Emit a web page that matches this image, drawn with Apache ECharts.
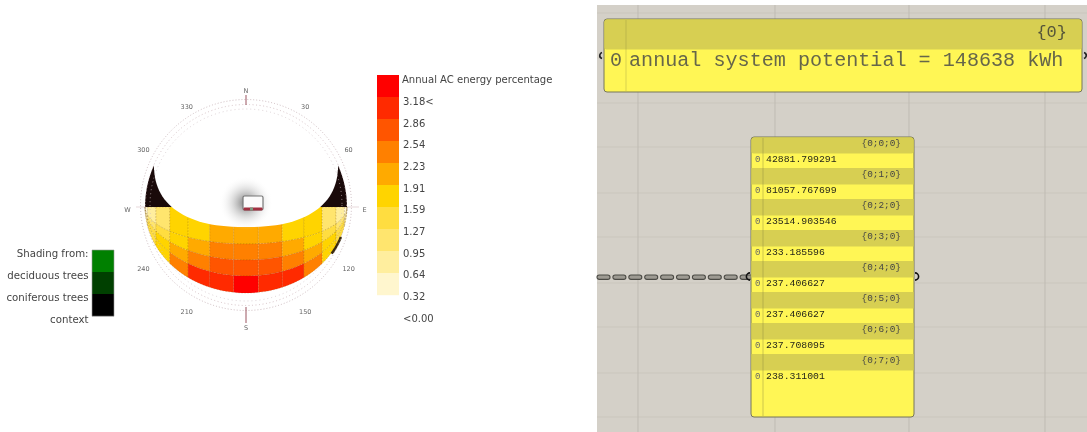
<!DOCTYPE html>
<html>
<head>
<meta charset="utf-8">
<style>
html,body{margin:0;padding:0;background:#fff;overflow:hidden}
#c{width:1087px;height:432px;filter:blur(0.45px)}
</style>
<script src="https://cdn.jsdelivr.net/npm/echarts@6/dist/echarts.min.js"></script>
</head>
<body>
<div id="c"></div>
<script>
// ---------- data ----------
const legendTitle = 'Annual AC energy percentage';
const legendLabels = ['3.18<','2.86','2.54','2.23','1.91','1.59','1.27','0.95','0.64','0.32','<0.00'];
const legendThresholds = [3.18,2.86,2.54,2.23,1.91,1.59,1.27,0.95,0.64,0.32];
const legendColors = ['#FF0000','#FF2A00','#FF5500','#FF8000','#FFAA00','#FFD400','#FFDD40','#FFE56E','#FFEE9E','#FFF6CE'];
const shadeLabels = ['Shading from:','deciduous trees','coniferous trees','context'];
const shadeColors = ['#008000','#004000','#000000'];
const compassLabels = ['N','30','60','E','120','150','S','210','240','W','300','330'];
const azimuthEdges = [-91,-77,-63,-49,-35,-21,-7,7,21,35,49,63,77,91];
const ringDepths = [0,37,53,69,86];
const skyRow0 = [0.4,0.7,1.0,1.6,1.7,2.0,2.0,2.0,1.7,1.6,1.0,0.7,0.4];
const skyRow1 = [0.7,1.0,1.3,1.7,2.1,2.3,2.4,2.3,2.1,1.7,1.3,1.0,0.7];
const skyRow2 = [0.9,1.3,1.6,2.0,2.3,2.6,2.7,2.6,2.3,2.0,1.6,1.3,0.9];
const skyRow3 = [1.0,1.4,1.9,2.3,2.9,3.1,3.3,3.1,2.9,2.3,1.9,1.4,1.0];
const bigPanelPath = '{0}';
const bigPanelIndex = '0';
const bigPanelText = 'annual system potential = 148638 kWh';
const listPaths = ['{0;0;0}','{0;1;0}','{0;2;0}','{0;3;0}','{0;4;0}','{0;5;0}','{0;6;0}','{0;7;0}'];
const listValues = ['42881.799291','81057.767699','23514.903546','233.185596','237.406627','237.406627','237.708095','238.311001'];
const wireLinks = [0,1,2,3,4,5,6,7,8,9];
const canvasVLines = [638,775,909,1045];
const canvasHLines = [13,58,103,147,193,237,283,327,373,417];

// ---------- look ----------
const SANS = '"DejaVu Sans"', MONO = '"Liberation Mono"';
const CX = 246, CY = 207, RX = 101;
const colorOf = v => { for (let i=0;i<legendThresholds.length;i++) if (v>=legendThresholds[i]) return legendColors[i]; return '#fff'; };
const project = (az,depth) => { const a=az*Math.PI/180; return [CX+RX*Math.sin(Math.max(-90,Math.min(90,az))*Math.PI/180), CY+depth*Math.max(0,Math.cos(a))]; };

const skyData = [];
[skyRow0,skyRow1,skyRow2,skyRow3].forEach((row,r)=>row.forEach((v,c)=>skyData.push([c,r,v])));

const chart = echarts.init(document.getElementById('c'),null,{width:1087,height:432});

function drawOnce(z, build){
  return {type:'custom',coordinateSystem:'cartesian2d',silent:true,z:z,clip:false,animation:false,
    data:[[0,0]],renderItem:(p,api)=>({type:'group',children:build(q=>api.coord(q))})};
}
const text=(c,x,y,t,o)=>{const q=c([x,y]);return {type:'text',style:Object.assign({x:q[0],y:q[1],text:t,textVerticalAlign:'middle',verticalAlign:'middle',fill:'#444',font:'10px '+SANS},o)};};
const rect=(c,x,y,w,h,style,r)=>{const a=c([x,y]),b=c([x+w,y+h]);return {type:'rect',shape:{x:a[0],y:a[1],width:b[0]-a[0],height:b[1]-a[1],r:r||0},style};};
const line=(c,x1,y1,x2,y2,stroke,w)=>{const a=c([x1,y1]),b=c([x2,y2]);return {type:'line',shape:{x1:a[0],y1:a[1],x2:b[0],y2:b[1]},style:{stroke,lineWidth:w,fill:null}};};

const series = [];

// sky dome cells
series.push({type:'custom',coordinateSystem:'cartesian2d',silent:true,z:2,clip:false,animation:false,
  data:skyData,encode:{x:0,y:1},
  renderItem:(p,api)=>{
    const c=api.value(0),r=api.value(1),v=api.value(2);
    const a0=azimuthEdges[c],a1=azimuthEdges[c+1],d0=ringDepths[r],d1=ringDepths[r+1];
    const pts=[];
    for(let i=0;i<=6;i++)pts.push(api.coord(project(a0+(a1-a0)*i/6,d0)));
    for(let i=6;i>=0;i--)pts.push(api.coord(project(a0+(a1-a0)*i/6,d1)));
    return {type:'polygon',shape:{points:pts},style:{fill:colorOf(v),stroke:'rgba(110,70,0,0.45)',lineWidth:0.5,lineDash:[1.5,1.5]}};
  }});

// black context wedges, white open sky, building
series.push(drawOnce(3,c=>{
  const out=[];
  const wedge=[];
  for(let d=-90;d<=90;d+=3){const a=d*Math.PI/180;wedge.push(c([CX+RX*Math.sin(a),CY-RX*Math.cos(a)]));}
  out.push({type:'polygon',shape:{points:wedge},style:{fill:'#1a0a0a'}});
  const W=92,H=63.5,n=2.4,yc=163.5,pts=[];
  for(let i=0;i<=120;i++){const t=i/120*2*Math.PI,cs=Math.cos(t),sn=Math.sin(t);
    pts.push(c([CX+W*Math.sign(cs)*Math.pow(Math.abs(cs),2/n),yc+H*Math.sign(sn)*Math.pow(Math.abs(sn),2/n)]));}
  out.push({type:'polygon',shape:{points:pts},style:{fill:'#ffffff'}});
  out.push({type:'polygon',shape:{points:[c([CX-92,170]),c([CX-92,150]),c([CX,96]),c([CX+92,150]),c([CX+92,170])]},style:{fill:'#ffffff'}});
  const sl=[];for(let a=58;a<=70;a+=2)sl.push(c(project(a,88)));
  out.push({type:'polyline',shape:{points:sl},style:{stroke:'#3a2a10',lineWidth:2.5,fill:null}});
  const g=c([246,203]);
  out.push({type:'circle',shape:{cx:g[0],cy:g[1],r:27},style:{fill:new echarts.graphic.RadialGradient(0.5,0.5,0.5,[{offset:0,color:'rgba(90,90,90,0.85)'},{offset:0.5,color:'rgba(170,170,170,0.4)'},{offset:1,color:'rgba(255,255,255,0)'}])}});
  out.push(rect(c,243,196,20,14,{fill:'#fbfbfb',stroke:'#777',lineWidth:1.2},1.5));
  out.push(rect(c,243.5,207.5,19,3,{fill:'#a03040'},1));
  out.push(rect(c,250,207.5,3,3,{fill:'#7a9a80'}));
  return out;
}));

// compass
series.push(drawOnce(4,c=>{
  const out=[];const o=c([CX,205]);
  [[105.5,'#b9a0a6',[1,2]],[100.5,'#c6aab0',[1,2.5]],[96,'#cfc0c4',[1,3]]].forEach(([r,col,dash])=>{
    const a=c([CX+r,205]);
    out.push({type:'circle',shape:{cx:o[0],cy:o[1],r:a[0]-o[0]},style:{fill:null,stroke:col,lineWidth:0.7,lineDash:dash}});
  });
  out.push(line(c,CX,95,CX,105,'#9b5560',1));
  out.push(line(c,CX,307,CX,323,'#9b5560',1));
  out.push(line(c,136,207,146,207,'#d8c0c4',0.6));
  out.push(line(c,347,207,359,207,'#d8c0c4',0.6));
  compassLabels.forEach((t,i)=>{
    const a=i*30*Math.PI/180, R=118.5;
    out.push(text(c,246+R*Math.sin(a),210-R*Math.cos(a),t,{fill:'#666',font:'6.5px '+SANS,textAlign:'center',align:'center'}));
  });
  return out;
}));

// percentage legend
series.push({type:'custom',coordinateSystem:'cartesian2d',silent:true,z:5,clip:false,animation:false,
  data:legendColors.map((_,i)=>[i]),encode:{x:0},
  renderItem:(p,api)=>{const i=api.value(0);const c=q=>api.coord(q);
    return rect(c,377,75+i*22,22,22.2,{fill:legendColors[i]});}});
series.push(drawOnce(5,c=>{
  const out=[text(c,402,80,legendTitle,{font:'10.05px '+SANS})];
  legendLabels.forEach((t,i)=>out.push(text(c,403,102.3+i*21.7,t,{font:'10px '+SANS})));
  return out;
}));

// shading legend
series.push(drawOnce(5,c=>{
  const out=[];
  shadeColors.forEach((col,i)=>out.push(rect(c,92,250+i*22,22,22.2,{fill:col})));
  out.push(rect(c,92,250,22,66.2,{fill:null,stroke:'#999',lineWidth:0.6}));
  shadeLabels.forEach((t,i)=>out.push(text(c,88.5,254.5+i*22,t,{textAlign:'right',align:'right',font:'10.2px '+SANS})));
  return out;
}));

// grasshopper canvas
series.push(drawOnce(6,c=>{
  const out=[rect(c,597,5,490,427,{fill:'#D4D0C8'})];
  canvasHLines.forEach(y=>out.push(line(c,597,y,1087,y,'#CAC6BD',1)));
  canvasVLines.forEach(x=>out.push(line(c,x,5,x,432,'#BFBBB3',1)));
  return out;
}));

// panels
const PANEL_FILL='#FFF655', PANEL_HEAD='#D7CF52';
series.push(drawOnce(8,c=>{
  const out=[];
  wireLinks.forEach(i=>out.push(rect(c,597+i*15.9,275,13,4.4,{fill:'#9d9a92',stroke:'#4b4a45',lineWidth:1.1},2.2)));
  out.push(rect(c,604,19,478,73,{fill:PANEL_FILL,stroke:'#77765a',lineWidth:1},3));
  out.push(rect(c,604.5,19.5,477,30,{fill:PANEL_HEAD},2));
  out.push(line(c,626,20,626,91,'rgba(130,130,60,0.3)',1));
  out.push(text(c,1067,32.5,bigPanelPath,{textAlign:'right',align:'right',font:'17px '+MONO,fill:'#55553a'}));
  out.push(text(c,610,60.5,bigPanelIndex,{font:'20px '+MONO,fill:'#66664a'}));
  out.push(text(c,629,60.5,bigPanelText,{font:'20.12px '+MONO,fill:'#66664a'}));
  const o=c([0,0]);
  out.push({type:'arc',shape:{cx:o[0]+603,cy:o[1]+55.5,r:3.2,startAngle:Math.PI*0.6,endAngle:Math.PI*1.4},style:{stroke:'#222',lineWidth:1.6,fill:null}});
  out.push({type:'arc',shape:{cx:o[0]+1083,cy:o[1]+55.5,r:3.2,startAngle:-Math.PI*0.4,endAngle:Math.PI*0.4},style:{stroke:'#222',lineWidth:1.6,fill:null}});
  out.push(rect(c,751,137,163,280,{fill:PANEL_FILL,stroke:'#77765a',lineWidth:1},3));
  listPaths.forEach((t,i)=>{
    const top=137+i*31;
    out.push(rect(c,751.5,top+(i?0:0.5),162,i?16.5:16,{fill:PANEL_HEAD},i?0:2));
    out.push(text(c,901,top+7,t,{textAlign:'right',align:'right',font:'9.4px '+MONO,fill:'#444'}));
    out.push(text(c,755,top+22.5,'0',{font:'9px '+MONO,fill:'#666'}));
    out.push(text(c,766,top+22.5,listValues[i],{font:'9.8px '+MONO,fill:'#26261a'}));
  });
  out.push(line(c,763,138,763,416,'rgba(130,130,60,0.4)',1));
  out.push({type:'arc',shape:{cx:o[0]+750,cy:o[1]+276.5,r:3.6,startAngle:Math.PI*0.5,endAngle:Math.PI*1.5},style:{stroke:'#111',lineWidth:1.6,fill:null}});
  out.push({type:'arc',shape:{cx:o[0]+915,cy:o[1]+276.5,r:3.6,startAngle:-Math.PI*0.5,endAngle:Math.PI*0.5},style:{stroke:'#111',lineWidth:1.6,fill:null}});
  return out;
}));

chart.setOption({
  animation:false,
  backgroundColor:'#ffffff',
  grid:{left:0,top:0,width:1087,height:432,containLabel:false},
  xAxis:{type:'value',min:0,max:1087,show:false},
  yAxis:{type:'value',min:0,max:432,inverse:true,show:false},
  series
});
</script>
</body>
</html>
